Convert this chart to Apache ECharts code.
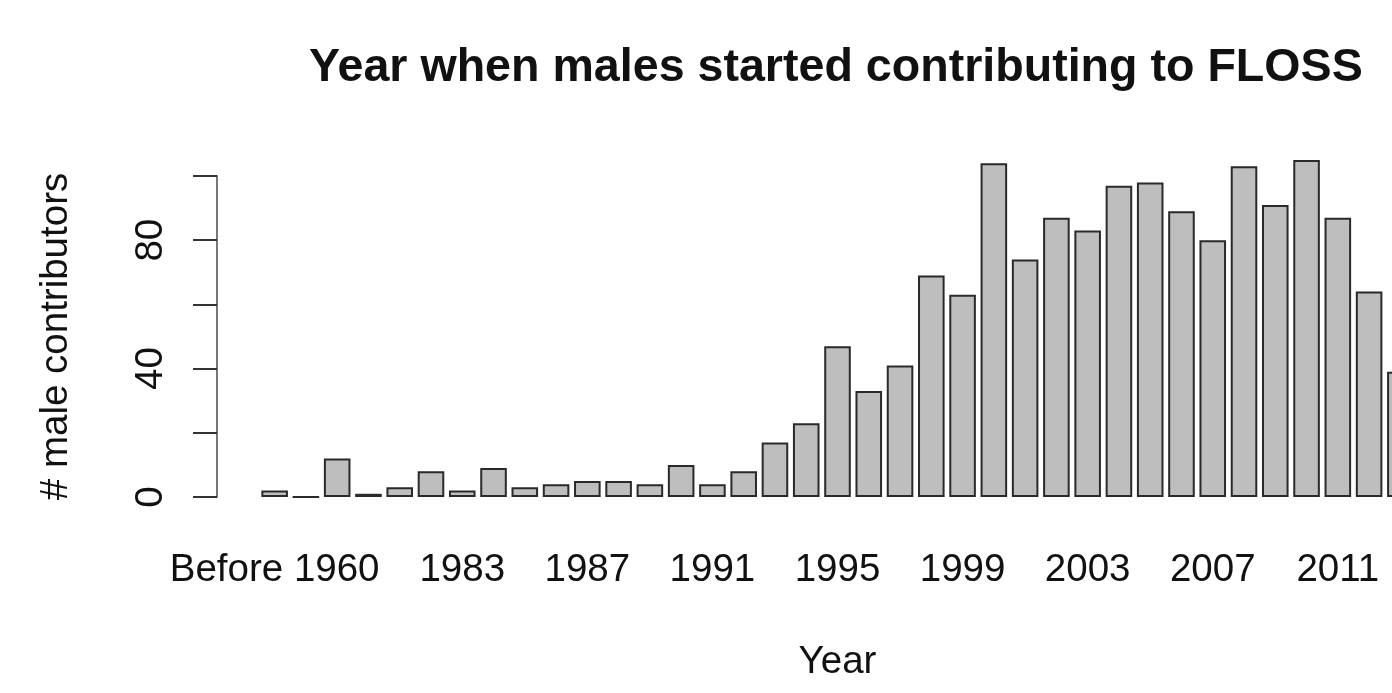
<!DOCTYPE html>
<html>
<head>
<meta charset="utf-8">
<script src="https://cdn.jsdelivr.net/npm/echarts@6/dist/echarts.min.js"></script>
<style>
  html, body { margin: 0; padding: 0; background: #fff; }
  #chart { width: 1392px; height: 693px; }
</style>
</head>
<body>
<div id="chart"></div>
<script>
var years = ['Before 1960', '1978', '1979', '1980', '1981', '1982', '1983', '1984', '1985',
    '1986', '1987', '1988', '1989', '1990', '1991', '1992', '1993', '1994', '1995', '1996',
    '1997', '1998', '1999', '2000', '2001', '2002', '2003', '2004', '2005', '2006', '2007',
    '2008', '2009', '2010', '2011', '2012', '2013'];
var maleCounts = [2, 0, 12, 1, 3, 8, 2, 9, 3, 4, 5, 5, 4, 10, 4, 8, 17, 23, 47, 33,
    41, 69, 63, 104, 74, 87, 83, 97, 98, 89, 80, 103, 91, 105, 87, 64, 39];
var yTicks = [0, 40, 80];

var font = 'Liberation Sans, Arial, Helvetica, sans-serif';
var chart = echarts.init(document.getElementById('chart'));

var option = {
    backgroundColor: '#fff',
    animation: false,
    title: {
        text: 'Year when males started contributing to FLOSS',
        left: 304,
        top: 40,
        textStyle: { fontFamily: font, fontSize: 46.6, fontWeight: 'bold', color: '#111' }
    },
    // plot runs past the right edge, the last bar is cut off like the original
    grid: { left: 259, width: 1157, top: 176, bottom: 196, outerBoundsMode: 'none' },
    xAxis: {
        type: 'category',
        data: years,
        name: 'Year',
        nameLocation: 'middle',
        nameGap: 146,
        nameTextStyle: { fontFamily: font, fontSize: 38.5, color: '#111' },
        axisLine: { show: false },
        axisTick: { show: false },
        axisLabel: {
            margin: 54,
            fontFamily: font,
            fontSize: 38.5,
            color: '#111',
            // R drops labels that would overlap
            interval: function (i) { return i === 0 || (i >= 6 && (i - 6) % 4 === 0); }
        }
    },
    yAxis: {
        type: 'value',
        min: 0,
        max: 100,
        interval: 20,
        offset: 42,
        name: '# male contributors',
        nameLocation: 'middle',
        nameRotate: 90,
        nameGap: 141,
        nameTextStyle: { fontFamily: font, fontSize: 38.5, color: '#111' },
        splitLine: { show: false },
        axisLine: { show: true, lineStyle: { color: '#777', width: 2 } },
        axisTick: { show: true, length: 24, lineStyle: { color: '#333', width: 2 } },
        axisLabel: {
            rotate: 90,
            margin: 46,
            fontFamily: font,
            fontSize: 38.5,
            color: '#111',
            formatter: function (v) { return yTicks.indexOf(v) >= 0 ? String(v) : ''; }
        }
    },
    series: [{
        type: 'bar',
        data: maleCounts,
        clip: false,
        barCategoryGap: '15%',
        itemStyle: { color: '#bebebe', borderColor: '#2a2a2a', borderWidth: 2 }
    }]
};

chart.setOption(option);
</script>
</body>
</html>
